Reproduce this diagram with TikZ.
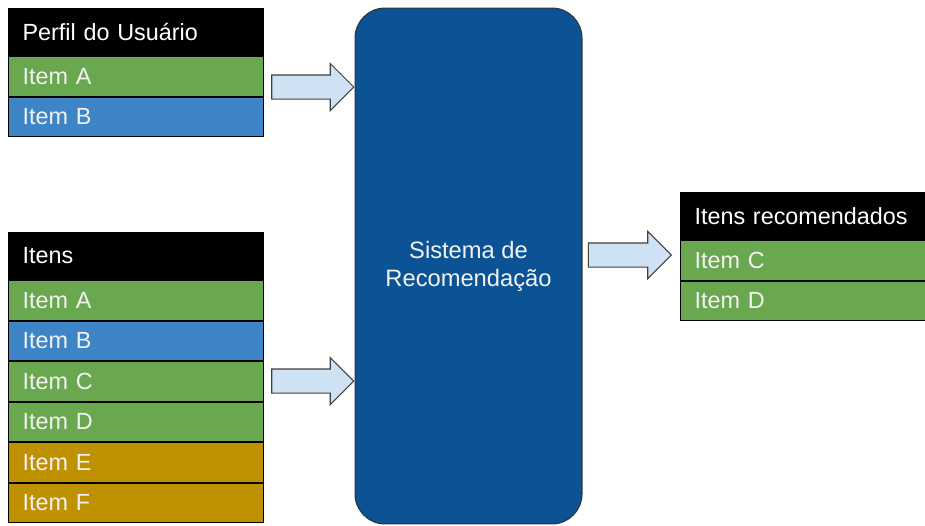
\documentclass[tikz,border=0pt]{standalone}
\usepackage{fontspec}
\setmainfont{Liberation Sans}
\usetikzlibrary{positioning, shapes.arrows}
\definecolor{verdeItem}{HTML}{6AA84F}
\definecolor{azulItem}{HTML}{3D85C6}
\definecolor{ouroItem}{HTML}{BF9000}
\definecolor{azulSistema}{HTML}{0B5394}
\definecolor{azulSeta}{HTML}{CFE2F3}
\definecolor{textoItem}{HTML}{F3F3F3}
\tikzset{
  linha/.style={
    draw=black, line width=0.6pt, minimum width=5.1cm, inner xsep=0.28cm,
    font=\fontsize{13.3}{15}\selectfont, text width=4.54cm, align=left
  },
  cabecalho/.style={linha, fill=black, text=white, minimum height=0.94cm},
  itemVerde/.style={linha, fill=verdeItem, text=textoItem, minimum height=0.79cm},
  itemAzul/.style={linha, fill=azulItem, text=textoItem, minimum height=0.79cm},
  itemOuro/.style={linha, fill=ouroItem, text=textoItem, minimum height=0.79cm},
}

\begin{document}
\begin{tikzpicture}[
    x=0.02cm, y=-0.02cm,
    sistema/.style={
        draw=black!80,
        line width=0.6pt,
        fill=azulSistema,
        rounded corners=0.6cm,
        minimum width=4.54cm,
        minimum height=10.32cm,
        align=center,
        text=textoItem,
        font=\fontsize{13.5}{16}\selectfont
    },
    setaBloco/.style={
        single arrow,
        draw=black!75,
        line width=0.6pt,
        fill=azulSeta,
        inner xsep=0pt,
        inner ysep=0.23cm,
        minimum height=1.64cm,
        single arrow head extend=0.23cm,
        single arrow tip angle=90
    }
]

\useasboundingbox (0,0) rectangle (925,525);

% perfil do usuario
\node[cabecalho, anchor=north west] (perfil) at (8,8) {Perfil do Usuário};
\node[itemVerde, below=0pt of perfil] (perfilA) {Item A};
\node[itemAzul, below=0pt of perfilA] (perfilB) {Item B};

% todos os itens
\node[cabecalho, anchor=north west] (itens) at (8,232) {Itens};
\node[itemVerde, below=0pt of itens] (itensA) {Item A};
\node[itemAzul, below=0pt of itensA] (itensB) {Item B};
\node[itemVerde, below=0pt of itensB] (itensC) {Item C};
\node[itemVerde, below=0pt of itensC] (itensD) {Item D};
\node[itemOuro, below=0pt of itensD] (itensE) {Item E};
\node[itemOuro, below=0pt of itensE] (itensF) {Item F};

\node[sistema] (sistema) at (468.5,266)
{Sistema de\\
Recomendação};

% saida
\node[cabecalho, minimum width=4.9cm, text width=4.34cm, anchor=north west] (recomendados) at (680,192) {Itens recomendados};
\node[itemVerde, minimum width=4.9cm, text width=4.34cm, below=0pt of recomendados] (recC) {Item C};
\node[itemVerde, minimum width=4.9cm, text width=4.34cm, below=0pt of recC] (recD) {Item D};

\node[setaBloco, anchor=tip] (seta1) at (sistema.west |- 0,87) {};
\node[setaBloco, anchor=tip] (seta2) at (sistema.west |- 0,381) {};
\node[setaBloco, anchor=tip, minimum height=1.66cm] (seta3) at (672,255) {};

\end{tikzpicture}
\end{document}
